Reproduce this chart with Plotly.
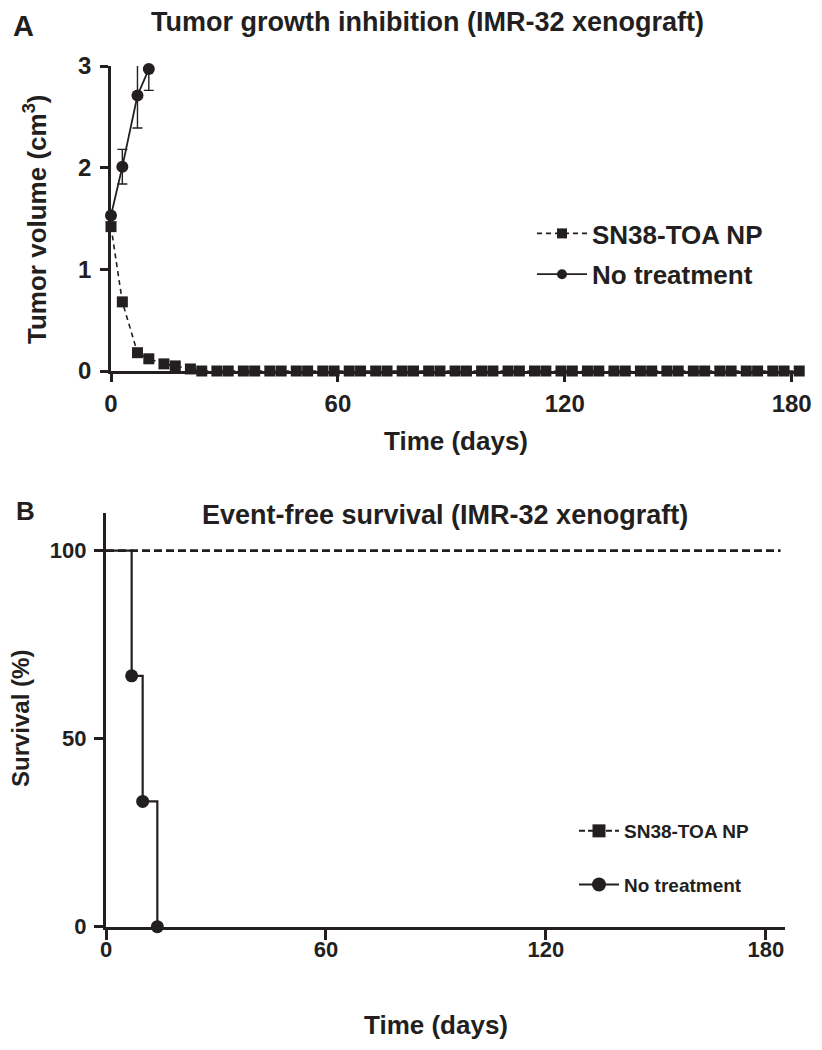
import plotly.graph_objects as go

INK = "#231f20"
FONT = "Liberation Sans, Arial, Helvetica, sans-serif"
PAGE_W, PAGE_H = 822, 1050
OFF = 8  # default page margin around the plot div
W, H = PAGE_W - 2 * OFF, PAGE_H - 2 * OFF

# ---------------- Panel A: tumor growth ----------------
tg_days_np = [0, 3, 7, 10, 14, 17, 21, 24, 28, 31, 35, 38, 42, 45, 49, 52, 56, 59,
              63, 66, 70, 73, 77, 80, 84, 87, 91, 94, 98, 101, 105, 108, 112, 115,
              119, 122, 126, 129, 133, 136, 140, 143, 147, 150, 154, 157, 161, 164,
              168, 171, 175, 178, 182]
tg_vol_np = [1.42, 0.68, 0.18, 0.12, 0.07, 0.05, 0.02, 0, 0, 0, 0, 0, 0, 0, 0, 0, 0, 0,
             0, 0, 0, 0, 0, 0, 0, 0, 0, 0, 0, 0, 0, 0, 0, 0,
             0, 0, 0, 0, 0, 0, 0, 0, 0, 0, 0, 0, 0, 0,
             0, 0, 0, 0, 0]
tg_days_nt = [0, 3, 7, 10]
tg_vol_nt = [1.53, 2.01, 2.71, 2.97]
tg_err_nt = [0.0, 0.17, 0.32, 0.21]
tg_xticks = [0, 60, 120, 180]
tg_yticks = [0, 1, 2, 3]

# ---------------- Panel B: event-free survival ----------------
sv_days_np = [0, 184]
sv_pct_np = [100, 100]
sv_days_nt = [0, 7, 10, 14]
sv_pct_nt = [100, 66.7, 33.3, 0]
sv_marker_nt = [0, 13, 13, 13]
sv_xticks = [0, 60, 120, 180]
sv_yticks = [0, 50, 100]

series_names = ["SN38-TOA NP", "No treatment"]


def px_x(p):
    return (p - OFF) / W


def px_y(p):
    return 1 - (p - OFF) / H


fig = go.Figure()

# Panel A traces
fig.add_trace(go.Scatter(
    x=tg_days_np, y=tg_vol_np, mode="lines+markers",
    line=dict(color=INK, width=1.6, dash="5px,4px"),
    marker=dict(symbol="square", size=11, color=INK, opacity=1, line=dict(width=0)),
    xaxis="x", yaxis="y", showlegend=False, cliponaxis=False))
fig.add_trace(go.Scatter(
    x=tg_days_nt, y=tg_vol_nt, mode="lines+markers",
    line=dict(color=INK, width=1.8),
    marker=dict(symbol="circle", size=12, color=INK, opacity=1, line=dict(width=0)),
    error_y=dict(type="data", array=tg_err_nt, color=INK, thickness=1.4, width=5),
    xaxis="x", yaxis="y", showlegend=False, cliponaxis=False))

# Panel A legend entries
fig.add_trace(go.Scatter(
    x=[None], y=[None], mode="lines+markers", name=series_names[0],
    line=dict(color=INK, width=1.6, dash="5px,4px"),
    marker=dict(symbol="square", size=10, color=INK, opacity=1),
    xaxis="x", yaxis="y", legend="legend", legendgroup="a1"))
fig.add_trace(go.Scatter(
    x=[None], y=[None], mode="lines+markers", name=series_names[1],
    line=dict(color=INK, width=1.8),
    marker=dict(symbol="circle", size=10, color=INK, opacity=1),
    xaxis="x", yaxis="y", legend="legend", legendgroup="a2"))

# Panel B traces
fig.add_trace(go.Scatter(
    x=sv_days_np, y=sv_pct_np, mode="lines", line_shape="hv",
    line=dict(color=INK, width=2.6, dash="8px,4px"),
    xaxis="x2", yaxis="y2", showlegend=False, cliponaxis=False))
fig.add_trace(go.Scatter(
    x=sv_days_nt, y=sv_pct_nt, mode="lines+markers", line_shape="hv",
    line=dict(color=INK, width=2.2),
    marker=dict(symbol="circle", size=sv_marker_nt, color=INK, opacity=1,
                line=dict(width=0)),
    xaxis="x2", yaxis="y2", showlegend=False, cliponaxis=False))

# Panel B legend entries
fig.add_trace(go.Scatter(
    x=[None], y=[None], mode="lines+markers", name=series_names[0],
    line=dict(color=INK, width=2.0, dash="6px,3px"),
    marker=dict(symbol="square", size=13, color=INK, opacity=1),
    xaxis="x2", yaxis="y2", legend="legend2", legendgroup="b1"))
fig.add_trace(go.Scatter(
    x=[None], y=[None], mode="lines+markers", name=series_names[1],
    line=dict(color=INK, width=2.0),
    marker=dict(symbol="circle", size=14, color=INK, opacity=1),
    xaxis="x2", yaxis="y2", legend="legend2", legendgroup="b2"))

axis_common = dict(showline=True, linecolor=INK, ticks="outside", tickcolor=INK,
                   showgrid=False, zeroline=False, fixedrange=True, automargin=False)

fig.update_layout(
    template="none",
    width=W, height=H,
    margin=dict(l=0, r=0, t=0, b=0, pad=0),
    paper_bgcolor="white", plot_bgcolor="white",
    font=dict(family=FONT, color=INK, weight="bold"),
    xaxis=dict(domain=[px_x(111), px_x(803)], range=[0, 183], tickvals=tg_xticks,
               anchor="y", linewidth=2.6, tickwidth=2.6, ticklen=8,
               tickfont=dict(size=24, family=FONT, color=INK, weight="bold"),
               ticklabelstandoff=1, **axis_common),
    yaxis=dict(domain=[px_y(371), px_y(66)], range=[0, 3], tickvals=tg_yticks,
               anchor="x", linewidth=2.6, tickwidth=2.6, ticklen=8,
               tickfont=dict(size=24, family=FONT, color=INK, weight="bold"),
               ticklabelstandoff=4, **axis_common),
    xaxis2=dict(domain=[px_x(106), px_x(785)], range=[0, 185.2], tickvals=sv_xticks,
                anchor="y2", linewidth=3.4, tickwidth=3.2, ticklen=10,
                tickfont=dict(size=22, family=FONT, color=INK, weight="bold"),
                ticklabelstandoff=-9, **axis_common),
    yaxis2=dict(domain=[px_y(926.7), px_y(513)], range=[0, 110], tickvals=sv_yticks,
                anchor="x2", linewidth=3.4, tickwidth=3.2, ticklen=9,
                tickfont=dict(size=22, family=FONT, color=INK, weight="bold"),
                ticklabelstandoff=3, **axis_common),
    legend=dict(x=px_x(532), y=px_y(210), xanchor="left", yanchor="top",
                font=dict(size=26, family=FONT, color=INK, weight="bold"),
                bgcolor="rgba(0,0,0,0)", traceorder="grouped", tracegroupgap=4,
                itemwidth=50),
    legend2=dict(x=px_x(574), y=px_y(812), xanchor="left", yanchor="top",
                 font=dict(size=19, family=FONT, color=INK, weight="bold"),
                 bgcolor="rgba(0,0,0,0)", traceorder="grouped", tracegroupgap=26,
                 itemwidth=40),
    showlegend=True,
)

ann_font = lambda s: dict(size=s, family=FONT, color=INK, weight="bold")
annotations = [
    dict(text="A", x=px_x(11), y=px_y(8.5), xanchor="left", yanchor="top",
         font=ann_font(29)),
    dict(text="Tumor growth inhibition (IMR-32 xenograft)", x=px_x(427), y=px_y(22),
         xanchor="center", yanchor="middle", font=ann_font(27)),
    dict(text="Time (days)", x=px_x(456), y=px_y(441), xanchor="center",
         yanchor="middle", font=ann_font(26)),
    dict(text="Tumor volume (cm<sup>3</sup>)", x=px_x(35), y=px_y(220),
         xanchor="center", yanchor="middle", textangle=-90, font=ann_font(26)),
    dict(text="B", x=px_x(14), y=px_y(511), xanchor="left", yanchor="middle",
         font=ann_font(26)),
    dict(text="Event-free survival (IMR-32 xenograft)", x=px_x(445), y=px_y(515),
         xanchor="center", yanchor="middle", font=ann_font(27)),
    dict(text="Time (days)", x=px_x(436), y=px_y(1025), xanchor="center",
         yanchor="middle", font=ann_font(26)),
    dict(text="Survival (%)", x=px_x(20), y=px_y(719), xanchor="center",
         yanchor="middle", textangle=-90, font=ann_font(24)),
]
for a in annotations:
    a.update(xref="paper", yref="paper", showarrow=False)
fig.update_layout(annotations=annotations)

fig.write_html("out.html")
